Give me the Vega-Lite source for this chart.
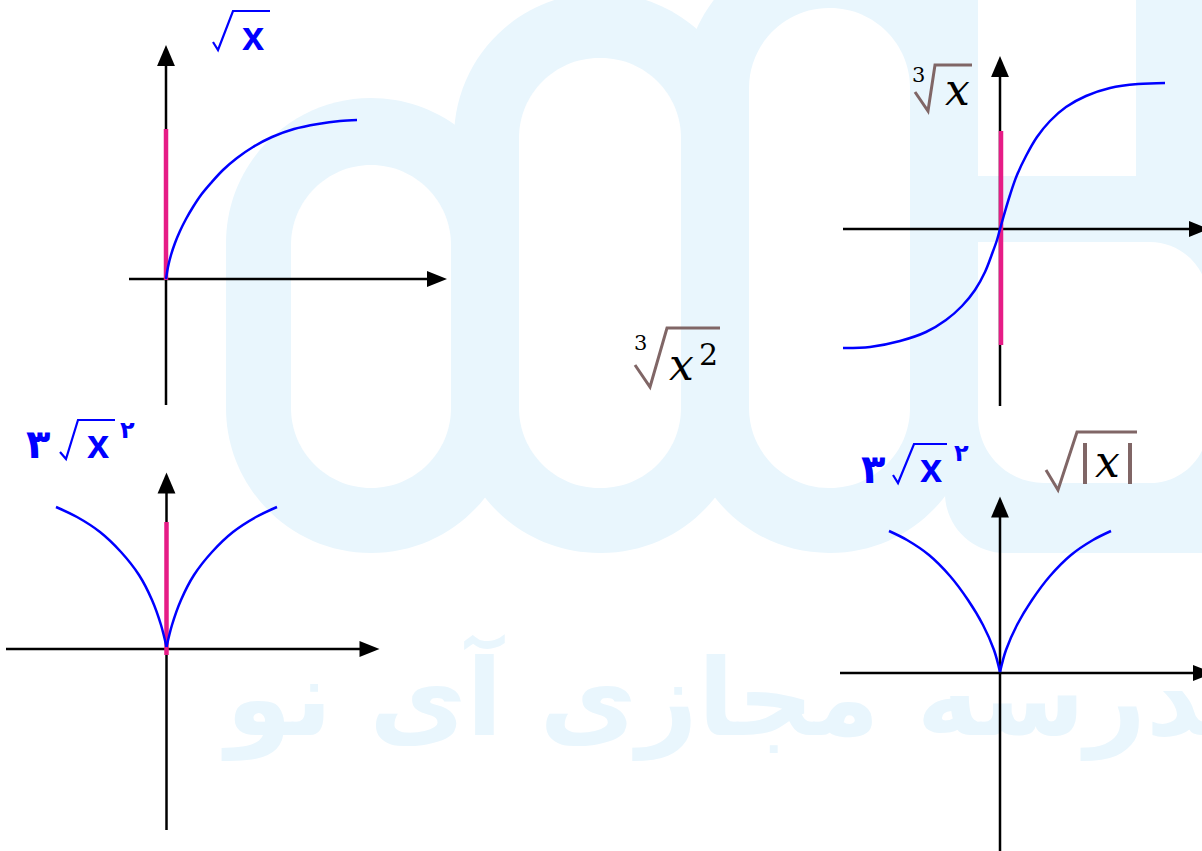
{
 "$schema": "https://vega.github.io/schema/vega-lite/v6.json",
 "width": 1202, "height": 851,
 "autosize": {"type": "fit", "contains": "padding"},
 "padding": 0,
 "background": "white",
 "config": {"view": {"stroke": null}},
 "datasets": {
  "wm": [
   {"g": "outer", "x": 226, "x2": 516, "y": 98, "y2": 553},
   {"g": "outer", "x": 454, "x2": 746, "y": -7, "y2": 553},
   {"g": "outer", "x": 684, "x2": 975, "y": -57, "y2": 553},
   {"g": "eP", "x": 945, "x2": 1320, "y": -60, "y2": 553},
   {"g": "inner", "x": 291, "x2": 451, "y": 165, "y2": 488},
   {"g": "inner", "x": 519, "x2": 681, "y": 58, "y2": 488},
   {"g": "inner", "x": 749, "x2": 910, "y": 8, "y2": 488},
   {"g": "eW1", "x": 978, "x2": 1136, "y": -20, "y2": 176},
   {"g": "eW2", "x": 978, "x2": 1208, "y": 242, "y2": 483}
  ],
  "ln": [
   {"k": "ax", "p": "a1v", "i": 0, "x": 166, "y": 66}, {"k": "ax", "p": "a1v", "i": 1, "x": 166, "y": 405},
   {"k": "ax", "p": "a1h", "i": 0, "x": 129, "y": 279}, {"k": "ax", "p": "a1h", "i": 1, "x": 430, "y": 279},
   {"k": "ax", "p": "a2v", "i": 0, "x": 1000, "y": 76}, {"k": "ax", "p": "a2v", "i": 1, "x": 1000, "y": 406},
   {"k": "ax", "p": "a2h", "i": 0, "x": 843, "y": 229}, {"k": "ax", "p": "a2h", "i": 1, "x": 1192, "y": 229},
   {"k": "ax", "p": "a3v", "i": 0, "x": 166.5, "y": 492}, {"k": "ax", "p": "a3v", "i": 1, "x": 166.5, "y": 830},
   {"k": "ax", "p": "a3h", "i": 0, "x": 6, "y": 649}, {"k": "ax", "p": "a3h", "i": 1, "x": 362, "y": 649},
   {"k": "ax", "p": "a4v", "i": 0, "x": 1000, "y": 516}, {"k": "ax", "p": "a4v", "i": 1, "x": 1000, "y": 851},
   {"k": "ax", "p": "a4h", "i": 0, "x": 840, "y": 673}, {"k": "ax", "p": "a4h", "i": 1, "x": 1196, "y": 673},
   {"k": "mg", "p": "m1", "i": 0, "x": 166, "y": 129}, {"k": "mg", "p": "m1", "i": 1, "x": 166, "y": 280},
   {"k": "mg", "p": "m2", "i": 0, "x": 1001, "y": 131}, {"k": "mg", "p": "m2", "i": 1, "x": 1001, "y": 345},
   {"k": "mg", "p": "m3", "i": 0, "x": 166.5, "y": 522}, {"k": "mg", "p": "m3", "i": 1, "x": 166.5, "y": 655},
   {"k": "cv", "p": "c1", "i": 0, "x": 166, "y": 279}, {"k": "cv", "p": "c1", "i": 1, "x": 168, "y": 267},
   {"k": "cv", "p": "c1", "i": 2, "x": 171, "y": 255}, {"k": "cv", "p": "c1", "i": 3, "x": 175, "y": 243},
   {"k": "cv", "p": "c1", "i": 4, "x": 180, "y": 231}, {"k": "cv", "p": "c1", "i": 5, "x": 186, "y": 219},
   {"k": "cv", "p": "c1", "i": 6, "x": 193, "y": 207}, {"k": "cv", "p": "c1", "i": 7, "x": 201, "y": 195},
   {"k": "cv", "p": "c1", "i": 8, "x": 211, "y": 183}, {"k": "cv", "p": "c1", "i": 9, "x": 223, "y": 170},
   {"k": "cv", "p": "c1", "i": 10, "x": 237, "y": 158}, {"k": "cv", "p": "c1", "i": 11, "x": 253, "y": 147},
   {"k": "cv", "p": "c1", "i": 12, "x": 272, "y": 137}, {"k": "cv", "p": "c1", "i": 13, "x": 294, "y": 129},
   {"k": "cv", "p": "c1", "i": 14, "x": 318, "y": 124}, {"k": "cv", "p": "c1", "i": 15, "x": 340, "y": 121},
   {"k": "cv", "p": "c1", "i": 16, "x": 357, "y": 120},
   {"k": "cv", "p": "c2", "i": 0, "x": 843, "y": 348}, {"k": "cv", "p": "c2", "i": 1, "x": 870, "y": 347},
   {"k": "cv", "p": "c2", "i": 2, "x": 900, "y": 341}, {"k": "cv", "p": "c2", "i": 3, "x": 926, "y": 332},
   {"k": "cv", "p": "c2", "i": 4, "x": 946, "y": 320}, {"k": "cv", "p": "c2", "i": 5, "x": 962, "y": 306},
   {"k": "cv", "p": "c2", "i": 6, "x": 975, "y": 290}, {"k": "cv", "p": "c2", "i": 7, "x": 985, "y": 272},
   {"k": "cv", "p": "c2", "i": 8, "x": 992, "y": 254}, {"k": "cv", "p": "c2", "i": 9, "x": 997, "y": 240},
   {"k": "cv", "p": "c2", "i": 10, "x": 1000, "y": 229}, {"k": "cv", "p": "c2", "i": 11, "x": 1004, "y": 215},
   {"k": "cv", "p": "c2", "i": 12, "x": 1010, "y": 195}, {"k": "cv", "p": "c2", "i": 13, "x": 1017, "y": 175},
   {"k": "cv", "p": "c2", "i": 14, "x": 1026, "y": 156}, {"k": "cv", "p": "c2", "i": 15, "x": 1037, "y": 137},
   {"k": "cv", "p": "c2", "i": 16, "x": 1050, "y": 121}, {"k": "cv", "p": "c2", "i": 17, "x": 1066, "y": 107},
   {"k": "cv", "p": "c2", "i": 18, "x": 1086, "y": 96}, {"k": "cv", "p": "c2", "i": 19, "x": 1110, "y": 88},
   {"k": "cv", "p": "c2", "i": 20, "x": 1138, "y": 84}, {"k": "cv", "p": "c2", "i": 21, "x": 1165, "y": 83},
   {"k": "cv", "p": "c3L", "i": 0, "x": 56, "y": 507}, {"k": "cv", "p": "c3L", "i": 1, "x": 77, "y": 517},
   {"k": "cv", "p": "c3L", "i": 2, "x": 100, "y": 532}, {"k": "cv", "p": "c3L", "i": 3, "x": 121, "y": 552},
   {"k": "cv", "p": "c3L", "i": 4, "x": 139, "y": 575}, {"k": "cv", "p": "c3L", "i": 5, "x": 152, "y": 600},
   {"k": "cv", "p": "c3L", "i": 6, "x": 161, "y": 625}, {"k": "cv", "p": "c3L", "i": 7, "x": 166.5, "y": 647},
   {"k": "cv", "p": "c3R", "i": 0, "x": 166.5, "y": 647}, {"k": "cv", "p": "c3R", "i": 1, "x": 172, "y": 625},
   {"k": "cv", "p": "c3R", "i": 2, "x": 181, "y": 600}, {"k": "cv", "p": "c3R", "i": 3, "x": 194, "y": 575},
   {"k": "cv", "p": "c3R", "i": 4, "x": 212, "y": 552}, {"k": "cv", "p": "c3R", "i": 5, "x": 233, "y": 532},
   {"k": "cv", "p": "c3R", "i": 6, "x": 256, "y": 517}, {"k": "cv", "p": "c3R", "i": 7, "x": 277, "y": 507},
   {"k": "cv", "p": "c4L", "i": 0, "x": 889, "y": 531}, {"k": "cv", "p": "c4L", "i": 1, "x": 907, "y": 540},
   {"k": "cv", "p": "c4L", "i": 2, "x": 929, "y": 555}, {"k": "cv", "p": "c4L", "i": 3, "x": 950, "y": 576},
   {"k": "cv", "p": "c4L", "i": 4, "x": 968, "y": 600}, {"k": "cv", "p": "c4L", "i": 5, "x": 983, "y": 625},
   {"k": "cv", "p": "c4L", "i": 6, "x": 994, "y": 650}, {"k": "cv", "p": "c4L", "i": 7, "x": 1000, "y": 672},
   {"k": "cv", "p": "c4R", "i": 0, "x": 1000, "y": 672}, {"k": "cv", "p": "c4R", "i": 1, "x": 1006, "y": 650},
   {"k": "cv", "p": "c4R", "i": 2, "x": 1017, "y": 625}, {"k": "cv", "p": "c4R", "i": 3, "x": 1032, "y": 600},
   {"k": "cv", "p": "c4R", "i": 4, "x": 1050, "y": 576}, {"k": "cv", "p": "c4R", "i": 5, "x": 1071, "y": 555},
   {"k": "cv", "p": "c4R", "i": 6, "x": 1093, "y": 540}, {"k": "cv", "p": "c4R", "i": 7, "x": 1111, "y": 531},
   {"k": "rb", "p": "r1", "i": 0, "x": 213, "y": 42}, {"k": "rb", "p": "r1", "i": 1, "x": 218, "y": 50},
   {"k": "rb", "p": "r1", "i": 2, "x": 233, "y": 11}, {"k": "rb", "p": "r1", "i": 3, "x": 270, "y": 11},
   {"k": "rb", "p": "r3", "i": 0, "x": 60, "y": 452}, {"k": "rb", "p": "r3", "i": 1, "x": 66, "y": 459},
   {"k": "rb", "p": "r3", "i": 2, "x": 78, "y": 420}, {"k": "rb", "p": "r3", "i": 3, "x": 115, "y": 420},
   {"k": "rb", "p": "r4", "i": 0, "x": 893, "y": 475}, {"k": "rb", "p": "r4", "i": 1, "x": 898, "y": 483},
   {"k": "rb", "p": "r4", "i": 2, "x": 914, "y": 444}, {"k": "rb", "p": "r4", "i": 3, "x": 947, "y": 444},
   {"k": "rr", "p": "q2", "i": 0, "x": 915, "y": 92}, {"k": "rr", "p": "q2", "i": 1, "x": 928, "y": 111},
   {"k": "rr", "p": "q2", "i": 2, "x": 935, "y": 65}, {"k": "rr", "p": "q2", "i": 3, "x": 972, "y": 65},
   {"k": "rr", "p": "qm", "i": 0, "x": 635, "y": 365}, {"k": "rr", "p": "qm", "i": 1, "x": 650, "y": 387},
   {"k": "rr", "p": "qm", "i": 2, "x": 667, "y": 328}, {"k": "rr", "p": "qm", "i": 3, "x": 720, "y": 328},
   {"k": "rr", "p": "q4", "i": 0, "x": 1046, "y": 470}, {"k": "rr", "p": "q4", "i": 1, "x": 1058, "y": 490},
   {"k": "rr", "p": "q4", "i": 2, "x": 1077, "y": 432}, {"k": "rr", "p": "q4", "i": 3, "x": 1137, "y": 432},
   {"k": "br", "p": "b1", "i": 0, "x": 1085, "y": 443}, {"k": "br", "p": "b1", "i": 1, "x": 1085, "y": 484},
   {"k": "br", "p": "b2", "i": 0, "x": 1130, "y": 443}, {"k": "br", "p": "b2", "i": 1, "x": 1130, "y": 484}
  ],
  "arr": [
   {"d": "r", "x": 437, "y": 279}, {"d": "r", "x": 1199, "y": 229},
   {"d": "r", "x": 369.5, "y": 649}, {"d": "r", "x": 1203, "y": 673},
   {"d": "u", "x": 166, "y": 55.5}, {"d": "u", "x": 1000, "y": 66.5},
   {"d": "u", "x": 166.5, "y": 483}, {"d": "u", "x": 1000, "y": 507}
  ],
  "tx": [
   {"s": "fa", "x": 226, "y": 735, "t": "مدرسه مجازی آی نو"},
   {"s": "bx", "x": 242, "y": 50, "t": "x"}, {"s": "bx", "x": 87, "y": 458, "t": "x"}, {"s": "bx", "x": 920, "y": 482, "t": "x"},
   {"s": "pd3", "x": 26, "y": 458, "t": "۳"}, {"s": "pd3", "x": 861, "y": 483, "t": "۳"},
   {"s": "pd2", "x": 120, "y": 438, "t": "۲"}, {"s": "pd2", "x": 954, "y": 461, "t": "۲"},
   {"s": "s3", "x": 912, "y": 82, "t": "3"}, {"s": "s3", "x": 634, "y": 350, "t": "3"},
   {"s": "s2", "x": 699, "y": 365, "t": "2"},
   {"s": "ix", "x": 945, "y": 105, "t": "x"}, {"s": "ix", "x": 669, "y": 380, "t": "x"}, {"s": "ix", "x": 1095, "y": 477, "t": "x"}
  ]
 },
 "encoding": {
  "x": {"field": "x", "type": "quantitative", "scale": {"domain": [0, 1202], "nice": false, "zero": false}, "axis": null},
  "y": {"field": "y", "type": "quantitative", "scale": {"domain": [0, 851], "nice": false, "zero": false, "reverse": true}, "axis": null}
 },
 "layer": [
  {"data": {"name": "wm"}, "transform": [{"filter": "datum.g === 'outer'"}],
   "mark": {"type": "rect", "fill": "#E9F6FD", "cornerRadius": 145, "clip": true},
   "encoding": {"x2": {"field": "x2"}, "y2": {"field": "y2"}}},
  {"data": {"name": "wm"}, "transform": [{"filter": "datum.g === 'eP'"}],
   "mark": {"type": "rect", "fill": "#E9F6FD", "cornerRadiusBottomLeft": 60, "clip": true},
   "encoding": {"x2": {"field": "x2"}, "y2": {"field": "y2"}}},
  {"data": {"name": "wm"}, "transform": [{"filter": "datum.g === 'inner'"}],
   "mark": {"type": "rect", "fill": "white", "cornerRadius": 80, "clip": true},
   "encoding": {"x2": {"field": "x2"}, "y2": {"field": "y2"}}},
  {"data": {"name": "wm"}, "transform": [{"filter": "datum.g === 'eW1'"}],
   "mark": {"type": "rect", "fill": "white", "clip": true},
   "encoding": {"x2": {"field": "x2"}, "y2": {"field": "y2"}}},
  {"data": {"name": "wm"}, "transform": [{"filter": "datum.g === 'eW2'"}],
   "mark": {"type": "rect", "fill": "white", "cornerRadiusTopRight": 58, "cornerRadiusBottomRight": 58, "cornerRadiusBottomLeft": 66, "clip": true},
   "encoding": {"x2": {"field": "x2"}, "y2": {"field": "y2"}}},
  {"data": {"name": "tx"}, "transform": [{"filter": "datum.s === 'fa'"}],
   "mark": {"type": "text", "font": "DejaVu Sans", "fontWeight": "bold", "fontSize": 106, "color": "#E9F6FD", "align": "left", "baseline": "alphabetic", "clip": true},
   "encoding": {"text": {"field": "t"}}},
  {"data": {"name": "ln"}, "transform": [{"filter": "datum.k === 'ax'"}],
   "mark": {"type": "line", "color": "#000000", "strokeWidth": 2.5, "clip": true},
   "encoding": {"detail": {"field": "p"}, "order": {"field": "i", "type": "quantitative"}}},
  {"data": {"name": "ln"}, "transform": [{"filter": "datum.k === 'mg'"}],
   "mark": {"type": "line", "color": "#E61C86", "strokeWidth": 4.5},
   "encoding": {"detail": {"field": "p"}, "order": {"field": "i", "type": "quantitative"}}},
  {"data": {"name": "ln"}, "transform": [{"filter": "datum.k === 'cv'"}],
   "mark": {"type": "line", "color": "#0000FF", "strokeWidth": 2.5, "interpolate": "catmull-rom"},
   "encoding": {"detail": {"field": "p"}, "order": {"field": "i", "type": "quantitative"}}},
  {"data": {"name": "ln"}, "transform": [{"filter": "datum.k === 'rb'"}],
   "mark": {"type": "line", "color": "#0000FF", "strokeWidth": 2.2},
   "encoding": {"detail": {"field": "p"}, "order": {"field": "i", "type": "quantitative"}}},
  {"data": {"name": "ln"}, "transform": [{"filter": "datum.k === 'rr'"}],
   "mark": {"type": "line", "color": "#806666", "strokeWidth": 3},
   "encoding": {"detail": {"field": "p"}, "order": {"field": "i", "type": "quantitative"}}},
  {"data": {"name": "ln"}, "transform": [{"filter": "datum.k === 'br'"}],
   "mark": {"type": "line", "color": "#806666", "strokeWidth": 4},
   "encoding": {"detail": {"field": "p"}, "order": {"field": "i", "type": "quantitative"}}},
  {"data": {"name": "arr"}, "transform": [{"filter": "datum.d === 'r'"}],
   "mark": {"type": "point", "shape": "M-1,-0.8L1,0L-1,0.8Z", "size": 400, "filled": true, "color": "#000000", "opacity": 1, "strokeWidth": 0, "clip": true}},
  {"data": {"name": "arr"}, "transform": [{"filter": "datum.d === 'u'"}],
   "mark": {"type": "point", "shape": "M-0.85,1L0,-1L0.85,1Z", "size": 441, "filled": true, "color": "#000000", "opacity": 1, "strokeWidth": 0, "clip": true}},
  {"data": {"name": "tx"}, "transform": [{"filter": "datum.s === 'bx'"}],
   "mark": {"type": "text", "font": "Liberation Sans", "fontWeight": "bold", "fontSize": 40, "color": "#0000FF", "align": "left", "baseline": "alphabetic"},
   "encoding": {"text": {"field": "t"}}},
  {"data": {"name": "tx"}, "transform": [{"filter": "datum.s === 'pd3'"}],
   "mark": {"type": "text", "font": "DejaVu Sans", "fontWeight": "bold", "fontSize": 40, "color": "#0000FF", "align": "left", "baseline": "alphabetic"},
   "encoding": {"text": {"field": "t"}}},
  {"data": {"name": "tx"}, "transform": [{"filter": "datum.s === 'pd2'"}],
   "mark": {"type": "text", "font": "DejaVu Sans", "fontWeight": "bold", "fontSize": 24, "color": "#0000FF", "align": "left", "baseline": "alphabetic"},
   "encoding": {"text": {"field": "t"}}},
  {"data": {"name": "tx"}, "transform": [{"filter": "datum.s === 's3'"}],
   "mark": {"type": "text", "font": "DejaVu Serif", "fontSize": 21, "color": "#000000", "align": "left", "baseline": "alphabetic"},
   "encoding": {"text": {"field": "t"}}},
  {"data": {"name": "tx"}, "transform": [{"filter": "datum.s === 's2'"}],
   "mark": {"type": "text", "font": "DejaVu Serif", "fontSize": 30, "color": "#000000", "align": "left", "baseline": "alphabetic"},
   "encoding": {"text": {"field": "t"}}},
  {"data": {"name": "tx"}, "transform": [{"filter": "datum.s === 'ix'"}],
   "mark": {"type": "text", "font": "DejaVu Serif", "fontStyle": "italic", "fontSize": 44, "color": "#000000", "align": "left", "baseline": "alphabetic"},
   "encoding": {"text": {"field": "t"}}}
 ]
}
